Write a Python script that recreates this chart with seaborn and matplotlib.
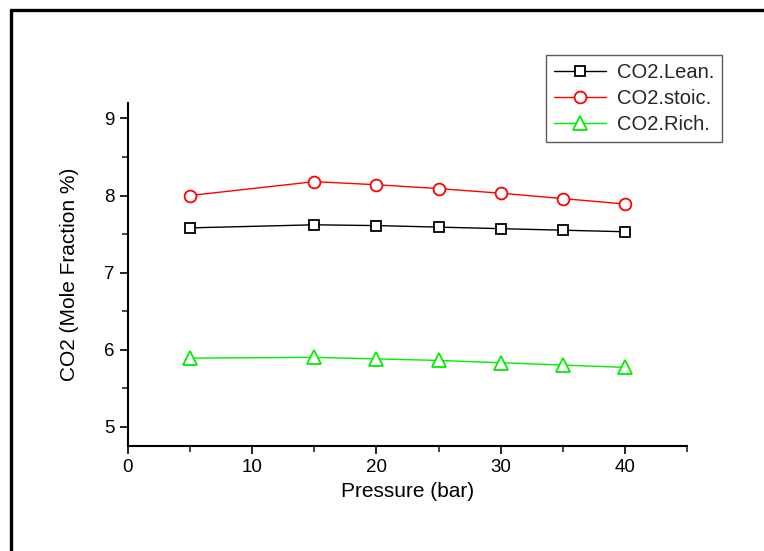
import matplotlib
matplotlib.use("Agg")
import matplotlib.pyplot as plt
import seaborn as sns
from matplotlib.ticker import MultipleLocator
from matplotlib.lines import Line2D

pressure = [5, 15, 20, 25, 30, 35, 40]
co2_lean = [7.58, 7.62, 7.61, 7.59, 7.57, 7.55, 7.53]
co2_stoic = [8.00, 8.18, 8.14, 8.09, 8.03, 7.96, 7.89]
co2_rich = [5.89, 5.90, 5.88, 5.86, 5.83, 5.80, 5.77]

series = [
    ("CO2.Lean.", co2_lean, "black", "s", 7.5),
    ("CO2.stoic.", co2_stoic, "#ff0000", "o", 8.5),
    ("CO2.Rich.", co2_rich, "#00ee00", "^", 10.5),
]

sns.set_theme(style="ticks")
plt.rcParams["font.family"] = ["Liberation Sans", "DejaVu Sans"]

fig = plt.figure(figsize=(7.64, 5.51), dpi=100)
ax = fig.add_axes([0.1675, 0.1906, 0.7317, 0.6224])

for name, vals, color, mk, ms in series:
    sns.lineplot(x=pressure, y=vals, ax=ax, color=color, marker=mk, markersize=ms,
                 markerfacecolor="white", markeredgecolor=color, markeredgewidth=1.3,
                 linewidth=1.0, label=name, legend=False)

ax.set_xlim(0, 45)
ax.set_ylim(4.75, 9.2)
ax.xaxis.set_major_locator(MultipleLocator(10))
ax.xaxis.set_minor_locator(MultipleLocator(5))
ax.yaxis.set_major_locator(MultipleLocator(1))
ax.yaxis.set_minor_locator(MultipleLocator(0.5))
ax.tick_params(which="major", direction="out", length=6, width=1.2, labelsize=13.5, colors="black")
ax.tick_params(which="minor", direction="out", length=4, width=1.2)
sns.despine(ax=ax)
for sp in ("left", "bottom"):
    ax.spines[sp].set_linewidth(1.5)
    ax.spines[sp].set_color("black")

ax.set_xlabel("Pressure (bar)", fontsize=15, color="black")
ax.set_ylabel("CO2 (Mole Fraction %)", fontsize=15, color="black", labelpad=18)

handles = ax.lines[:3]
labels = [s[0] for s in series]
leg = fig.legend(handles, labels, loc="upper right", bbox_to_anchor=(0.945, 0.900),
                 fontsize=14.5, handlelength=2.6, frameon=True, fancybox=False,
                 edgecolor="#333333", borderpad=0.4, labelspacing=0.35,
                 handletextpad=0.5, borderaxespad=0)
leg.get_frame().set_linewidth(1.0)

# outer frame lines (left and top) as in the screenshot
fig.add_artist(Line2D([0.0145, 0.0145], [0, 0.982], transform=fig.transFigure, color="black", linewidth=2.4))
fig.add_artist(Line2D([0.0145, 1.0], [0.982, 0.982], transform=fig.transFigure, color="black", linewidth=2.4))

fig.savefig("out.png", dpi=100)
